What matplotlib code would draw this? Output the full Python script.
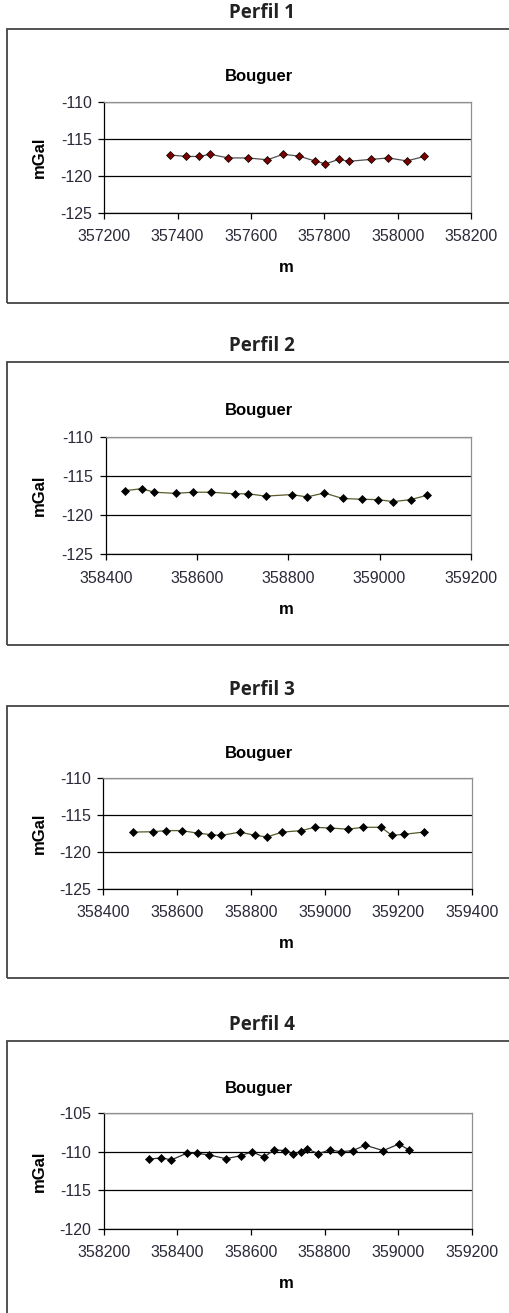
import numpy as np
import matplotlib
matplotlib.use("Agg")
import matplotlib.pyplot as plt
from matplotlib.patches import Rectangle

# distances (m) and Bouguer anomaly (mGal) per profile
x1 = [357379, 357423, 357459, 357488, 357538, 357591, 357645, 357688, 357730,
      357774, 357803, 357839, 357868, 357926, 357974, 358025, 358073]
g1 = [-117.2, -117.4, -117.4, -117.1, -117.6, -117.6, -117.85, -117.1, -117.35,
      -118.0, -118.4, -117.8, -118.05, -117.8, -117.6, -118.0, -117.4]

x2 = [358442, 358478, 358506, 358553, 358590, 358631, 358682, 358712, 358750,
      358807, 358841, 358879, 358919, 358961, 358997, 359030, 359068, 359104]
g2 = [-116.9, -116.65, -117.1, -117.25, -117.1, -117.1, -117.3, -117.3, -117.6,
      -117.4, -117.7, -117.2, -117.9, -118.0, -118.05, -118.3, -118.05, -117.5]

x3 = [358480, 358534, 358570, 358612, 358657, 358692, 358720, 358770, 358812, 358844,
      358885, 358937, 358973, 359014, 359063, 359105, 359153, 359182, 359215, 359268]
g3 = [-117.35, -117.3, -117.15, -117.15, -117.5, -117.7, -117.8, -117.35, -117.8, -118.0,
      -117.35, -117.15, -116.7, -116.8, -116.95, -116.7, -116.7, -117.8, -117.65, -117.35]

x4 = [358323, 358356, 358384, 358425, 358452, 358485, 358532, 358573, 358603, 358635,
      358663, 358692, 358713, 358736, 358753, 358783, 358814, 358843, 358876, 358910,
      358959, 359001, 359029]
g4 = [-110.95, -110.8, -111.05, -110.2, -110.2, -110.4, -110.9, -110.5, -110.0, -110.7,
      -109.75, -109.85, -110.3, -110.0, -109.65, -110.25, -109.75, -110.0, -109.85, -109.15,
      -109.85, -109.0, -109.75]

titles = ["Perfil 1", "Perfil 2", "Perfil 3", "Perfil 4"]
xlims = [(357200, 358200), (358400, 359200), (358400, 359400), (358200, 359200)]
ylims = [(-125, -110), (-125, -110), (-125, -110), (-120, -105)]

W, H = 509, 1313
fig = plt.figure(figsize=(W / 100, H / 100), dpi=100)

def px(x, y):
    return x / W, 1 - y / H

# pixel layout of each panel: frame top/bottom, plot box (left, top, right, bottom)
frames = [(29, 303), (362, 645), (706, 978), (1041, 1330)]
boxes = [(104.3, 101.7, 471, 212.7), (106, 436.7, 470.7, 554),
         (103.3, 777.7, 472.3, 888.7), (103.7, 1113.3, 472, 1228.7)]
title_y = [13, 346, 690, 1025]
line_cols = ["#505050", "#5a5a2a", "#5a5a2a", "#303030"]
mark_cols = ["#7a0000", "black", "black", "black"]

data = [(x1, g1), (x2, g2), (x3, g3), (x4, g4)]

for i in range(4):
    ft, fb = frames[i]
    fig.patches.append(Rectangle(px(7, fb), 530 / W, (fb - ft) / H, transform=fig.transFigure,
                                 fill=False, edgecolor="#444444", linewidth=1.3))
    tx, ty = px(262, title_y[i])
    fig.text(tx, ty, titles[i], ha="center", va="center", fontsize=13.5,
             fontweight="bold", family="Open Sans", color="#222222")

    l, t, r, b = boxes[i]
    x0, y0 = px(l, b)
    ax = fig.add_axes([x0, y0, (r - l) / W, (b - t) / H])
    xs, ys = data[i]
    ax.plot(xs, ys, color=line_cols[i], linewidth=0.9, marker="D", markersize=3.6,
            markerfacecolor=mark_cols[i], markeredgecolor="black", markeredgewidth=0.5)
    ax.set_xlim(*xlims[i])
    ax.set_ylim(*ylims[i])
    xt = np.arange(xlims[i][0], xlims[i][1] + 1, 200)
    yt = np.arange(ylims[i][0], ylims[i][1] + 1, 5)
    ax.set_xticks(xt)
    ax.set_yticks(yt)
    ax.set_xticklabels([str(int(v)) for v in xt], family="Liberation Sans")
    ax.set_yticklabels([str(int(v)) for v in yt], family="Liberation Sans")
    ax.yaxis.grid(True, color="black", linewidth=0.9)
    ax.set_axisbelow(True)
    for s in ["top", "right"]:
        ax.spines[s].set_color("#909090")
        ax.spines[s].set_linewidth(0.9)
    for s in ["left", "bottom"]:
        ax.spines[s].set_color("black")
        ax.spines[s].set_linewidth(0.9)
    ax.tick_params(direction="out", length=4, width=0.9, color="black",
                   labelsize=11.5, labelcolor="#2a2a3a")
    ax.tick_params(axis="x", pad=8)
    ax.tick_params(axis="y", pad=5)

    bx, by = px(259, title_y[i] + 64)
    fig.text(bx, by, "Bouguer", ha="center", va="center", fontsize=12,
             fontweight="bold", family="Liberation Sans")
    lx, ly = px(39, (t + b) / 2)
    fig.text(lx, ly, "mGal", ha="center", va="center", rotation=90, fontsize=12,
             fontweight="bold", family="Liberation Sans")
    mx, my = px(286, b + 55)
    fig.text(mx, my, "m", ha="center", va="center", fontsize=12,
             fontweight="bold", family="Liberation Sans")

fig.savefig("out.png", dpi=100)
